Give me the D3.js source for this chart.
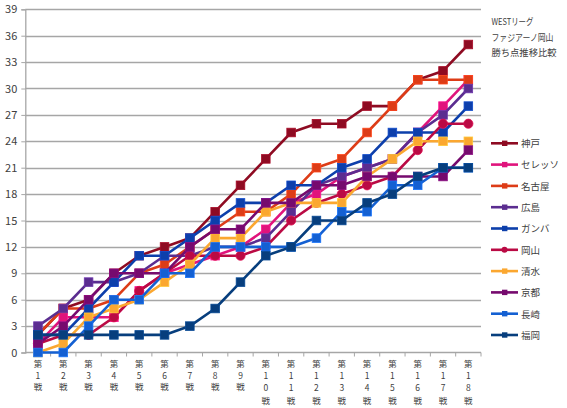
<!DOCTYPE html>
<html>
<head>
<meta charset="utf-8">
<script src="https://cdn.jsdelivr.net/npm/d3@7"></script>
<style>
  body { margin: 0; background: #fff; }
  text { font-family: "Noto Sans CJK JP", "Noto Sans", sans-serif; fill: #404040; }
</style>
</head>
<body>
<div id="chart"></div>
<script>
// rounds and team names
var rounds = d3.range(1, 19);
var teams = ["神戸", "セレッソ", "名古屋", "広島", "ガンバ", "岡山", "清水", "京都", "長崎", "福岡"];
var colors = ["#8E0B22", "#E0147C", "#DD3C17", "#5B2D90", "#0D3FAB", "#BA0A44", "#FBA730", "#760A6E", "#1460D2", "#073E7D"];
var titleLines = ["WESTリーグ", "ファジアーノ岡山", "勝ち点推移比較"];
var titleWidths = [42, 62, 65];
var yTicks = d3.range(0, 40, 3);

// points after each round
var kobe    = [2, 5, 6, 9, 11, 12, 13, 16, 19, 22, 25, 26, 26, 28, 28, 31, 32, 35];
var cerezo  = [1, 4, 4, 4, 7, 9, 10, 11, 12, 14, 17, 18, 20, 21, 22, 25, 28, 31];
var nagoya  = [2, 5, 5, 6, 9, 10, 12, 14, 16, 16, 18, 21, 22, 25, 28, 31, 31, 31];
var hiro    = [3, 5, 8, 8, 9, 11, 11, 12, 12, 13, 16, 19, 20, 21, 22, 25, 27, 30];
var gamba   = [2, 2, 5, 8, 11, 11, 13, 15, 17, 17, 19, 19, 21, 22, 25, 25, 25, 28];
var okayama = [1, 2, 2, 4, 7, 9, 11, 11, 11, 12, 15, 17, 18, 19, 20, 23, 26, 26];
var shimizu = [0, 1, 4, 5, 6, 8, 10, 13, 13, 16, 17, 17, 17, 20, 22, 24, 24, 24];
var kyoto   = [1, 3, 6, 9, 9, 9, 12, 14, 14, 17, 17, 19, 19, 20, 20, 20, 20, 23];
var nagasaki= [0, 0, 3, 6, 6, 9, 9, 12, 12, 12, 12, 13, 16, 16, 19, 19, 21, 21];
var fukuoka = [2, 2, 2, 2, 2, 2, 3, 5, 8, 11, 12, 15, 15, 17, 18, 20, 21, 21];

var seriesValues = [kobe, cerezo, nagoya, hiro, gamba, okayama, shimizu, kyoto, nagasaki, fukuoka];

var width = 567, height = 408;

var svg = d3.select("#chart").append("svg")
	.attr("width", width)
	.attr("height", height);

// scales
var x = d3.scaleBand()
	.domain(rounds)
	.range([25.3, 481]);

var y = d3.scaleLinear()
	.domain([0, 39])
	.range([352.5, 9.3]);

// grid lines
svg.append("g")
	.selectAll("line")
	.data(yTicks.filter(function (d) { return d > 0; }))
	.enter()
	.append("line")
	.attr("x1", 25.3)
	.attr("x2", 481)
	.attr("y1", function (d) { return Math.round(y(d)) + 0.5; })
	.attr("y2", function (d) { return Math.round(y(d)) + 0.5; })
	.attr("stroke", "#A6A6A6")
	.attr("stroke-width", 1.3);

// y axis
var yAxis = svg.append("g")
	.attr("transform", "translate(25.3,0)")
	.call(d3.axisLeft(y).tickValues(yTicks).tickSize(4).tickPadding(4));
yAxis.selectAll("text").style("font-size", "11px").attr("fill", "#404040");
yAxis.selectAll("line").attr("stroke", "#A6A6A6");
yAxis.select(".domain").attr("stroke", "#A6A6A6").attr("stroke-width", 1.3);

// x axis line and ticks between categories
var xg = svg.append("g");
xg.append("line")
	.attr("x1", 25.3).attr("x2", 481)
	.attr("y1", y(0)).attr("y2", y(0))
	.attr("stroke", "#A6A6A6")
	.attr("stroke-width", 1.3);
xg.selectAll(".tick")
	.data(rounds)
	.enter()
	.append("line")
	.attr("x1", function (d) { return x(d) + x.bandwidth(); })
	.attr("x2", function (d) { return x(d) + x.bandwidth(); })
	.attr("y1", y(0))
	.attr("y2", y(0) + 4)
	.attr("stroke", "#A6A6A6");

// stacked vertical labels: 第 / digits / 戦
rounds.forEach(function (r) {
	var parts = ["第"].concat(String(r).split("")).concat(["戦"]);
	var step = parts.length > 3 ? 12.2 : 11.7;
	var cx = x(r) + x.bandwidth() / 2;
	parts.forEach(function (p, i) {
		xg.append("text")
			.attr("x", cx)
			.attr("y", 367 + i * step)
			.attr("text-anchor", "middle")
			.style("font-size", "8.5px")
			.text(p);
	});
});

// series
var line = d3.line()
	.x(function (d, i) { return x(rounds[i]) + x.bandwidth() / 2; })
	.y(function (d) { return y(d); });

seriesValues.forEach(function (vals, k) {
	var g = svg.append("g");
	g.append("path")
		.datum(vals)
		.attr("d", line)
		.attr("fill", "none")
		.attr("stroke", colors[k])
		.attr("stroke-width", 2.6)
		.attr("stroke-linejoin", "round");
	if (teams[k] === "岡山") {
		g.selectAll("circle")
			.data(vals)
			.enter()
			.append("circle")
			.attr("cx", function (d, i) { return x(rounds[i]) + x.bandwidth() / 2; })
			.attr("cy", function (d) { return y(d); })
			.attr("r", 4.6)
			.attr("fill", colors[k])
			.attr("stroke", d3.color(colors[k]).brighter(0.5))
			.attr("stroke-width", 0.8);
	} else {
		g.selectAll("rect")
			.data(vals)
			.enter()
			.append("rect")
			.attr("x", function (d, i) { return x(rounds[i]) + x.bandwidth() / 2 - 4.3; })
			.attr("y", function (d) { return y(d) - 4.3; })
			.attr("width", 8.6)
			.attr("height", 8.6)
			.attr("fill", colors[k])
			.attr("stroke", d3.color(colors[k]).brighter(0.5))
			.attr("stroke-width", 0.8);
	}
});

// legend
var legend = svg.append("g");
teams.forEach(function (t, k) {
	var ly = 143.3 + k * 21.3;
	legend.append("line")
		.attr("x1", 491).attr("x2", 518)
		.attr("y1", ly).attr("y2", ly)
		.attr("stroke", colors[k])
		.attr("stroke-width", 2.6);
	if (t === "岡山") {
		legend.append("circle")
			.attr("cx", 504.5).attr("cy", ly).attr("r", 3)
			.attr("fill", colors[k]);
	} else {
		legend.append("rect")
			.attr("x", 502).attr("y", ly - 2.7)
			.attr("width", 5.4).attr("height", 5.4)
			.attr("fill", colors[k]);
	}
	legend.append("text")
		.attr("x", 521)
		.attr("y", ly + 3.8)
		.style("font-size", "9.5px")
		.text(t);
});

// title block
titleLines.forEach(function (s, i) {
	svg.append("text")
		.attr("x", 491.5)
		.attr("y", 25 + i * 15.5)
		.style("font-size", "9.5px")
		.attr("textLength", titleWidths[i])
		.attr("lengthAdjust", "spacingAndGlyphs")
		.text(s);
});
</script>
</body>
</html>
